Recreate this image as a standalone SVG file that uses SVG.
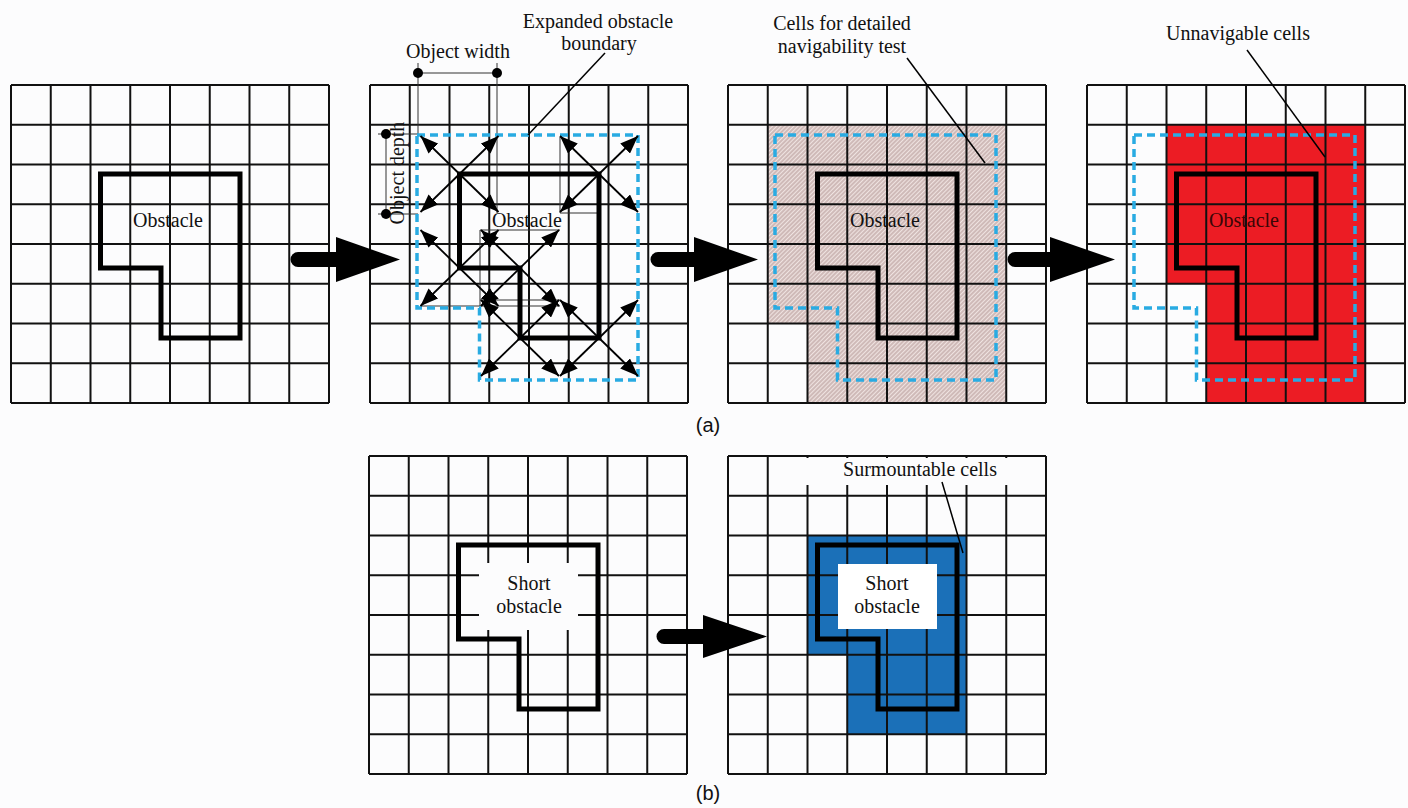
<svg xmlns="http://www.w3.org/2000/svg" xmlns:xlink="http://www.w3.org/1999/xlink" width="1408" height="808" viewBox="0 0 1408 808">
<style>
.grid{fill:none;stroke:#111;stroke-width:2}
.obs{fill:none;stroke:#000;stroke-width:5;stroke-linejoin:miter}
.bnd{fill:none;stroke:#29abe2;stroke-width:3.5;stroke-dasharray:8 5}
.lbl{font-family:"Liberation Serif","Times New Roman",serif;font-size:20px;fill:#111;text-anchor:middle}
.cap{font-family:"Liberation Sans",Arial,sans-serif;font-size:20px;fill:#111;text-anchor:middle}
.lead{stroke:#000;stroke-width:1.5;fill:none}
.thin{stroke:#333;stroke-width:1;fill:none}
.dbl{stroke:#000;stroke-width:1.8;fill:none;marker-start:url(#ah);marker-end:url(#ah)}
.big{fill:#000}
</style>
<defs>
<marker id="ah" markerUnits="userSpaceOnUse" markerWidth="18" markerHeight="14" refX="18" refY="7" orient="auto-start-reverse">
<path d="M0,0 L18,7 L0,14 Z" fill="#000"/>
</marker>
<pattern id="hatch" width="3" height="3" patternUnits="userSpaceOnUse" patternTransform="rotate(45)">
<rect width="3" height="3" fill="#efe3e1"/>
<line x1="1" y1="0" x2="1" y2="3" stroke="#b0928f" stroke-width="1"/>
</pattern>
<path id="grid" class="grid" d="M0,0H318M0,39.75H318M0,79.5H318M0,119.25H318M0,159H318M0,198.75H318M0,238.5H318M0,278.25H318M0,318H318M0,0V318M39.75,0V318M79.5,0V318M119.25,0V318M159,0V318M198.75,0V318M238.5,0V318M278.25,0V318M318,0V318"/>
<path id="obs" class="obs" d="M89.5,89H229V253H150V183H89.5Z"/>
<path id="bnd" class="bnd" d="M47,50H268V295H109.5V223H47Z"/>
</defs>
<rect width="1408" height="808" fill="#fcfcfd"/>

<g id="panel-a1">
<use xlink:href="#grid" x="11" y="85"/>
<use xlink:href="#obs" x="11" y="85"/>
<text class="lbl" x="168" y="227">Obstacle</text>
</g>

<g id="panel-a2">
<use xlink:href="#grid" x="370" y="85"/>
<g class="thin">
<path d="M418,63V135M497,63V213M378,134H418M378,214H418M560,137V213M560,213H599M480,230V306M480,230H560M420,306H560M480,300H560"/>
<path d="M418,73H497M386,134V214"/>
</g>
<circle cx="418" cy="73" r="5" fill="#000"/>
<circle cx="497" cy="73" r="5" fill="#000"/>
<circle cx="386" cy="134" r="5" fill="#000"/>
<circle cx="386" cy="214" r="5" fill="#000"/>
<use xlink:href="#obs" x="370" y="85"/>
<use xlink:href="#bnd" x="370" y="85"/>
<g id="reach-arrows">
<line class="dbl" x1="420.5" y1="136" x2="498.5" y2="212"/>
<line class="dbl" x1="498.5" y1="136" x2="420.5" y2="212"/>
<line class="dbl" x1="560" y1="136" x2="638" y2="212"/>
<line class="dbl" x1="638" y1="136" x2="560" y2="212"/>
<line class="dbl" x1="420.5" y1="230" x2="498.5" y2="306"/>
<line class="dbl" x1="498.5" y1="230" x2="420.5" y2="306"/>
<line class="dbl" x1="481" y1="230" x2="559" y2="306"/>
<line class="dbl" x1="559" y1="230" x2="481" y2="306"/>
<line class="dbl" x1="481" y1="300" x2="559" y2="376"/>
<line class="dbl" x1="559" y1="300" x2="481" y2="376"/>
<line class="dbl" x1="560" y1="300" x2="638" y2="376"/>
<line class="dbl" x1="638" y1="300" x2="560" y2="376"/>
</g>
<text class="lbl" x="527" y="227">Obstacle</text>
<text class="lbl" x="458" y="58">Object width</text>
<text class="lbl" transform="translate(404,173) rotate(-90)">Object depth</text>
<text class="lbl" x="598" y="28">Expanded obstacle</text>
<text class="lbl" x="599" y="50">boundary</text>
</g>

<g id="panel-a3">
<path d="M767.75,124.75H1006.25V403H807.5V323.5H767.75Z" fill="url(#hatch)"/>
<use xlink:href="#grid" x="728" y="85"/>
<use xlink:href="#obs" x="728" y="85"/>
<use xlink:href="#bnd" x="728" y="85"/>
<text class="lbl" x="885" y="227">Obstacle</text>
<text class="lbl" x="842" y="30">Cells for detailed</text>
<text class="lbl" x="842" y="53">navigability test</text>
</g>

<g id="panel-a4">
<path d="M1166.5,124.75H1365.25V403H1206.25V283.75H1166.5Z" fill="#ec1c24"/>
<use xlink:href="#grid" x="1087" y="85"/>
<use xlink:href="#obs" x="1087" y="85"/>
<use xlink:href="#bnd" x="1087" y="85"/>
<text class="lbl" x="1244" y="227" style="fill:#3a0606">Obstacle</text>
<text class="lbl" x="1238" y="40">Unnavigable cells</text>
</g>

<g id="panel-b1">
<use xlink:href="#grid" x="369" y="456"/>
<rect x="479" y="563" width="99" height="67" fill="#fcfcfd"/>
<use xlink:href="#obs" x="369" y="456"/>
<text class="lbl" x="529" y="590">Short</text>
<text class="lbl" x="529" y="613">obstacle</text>
</g>

<g id="panel-b2">
<path d="M807.5,535.5H966.5V734.25H847.25V654.75H807.5Z" fill="#1b70b8"/>
<use xlink:href="#grid" x="728" y="456"/>
<rect x="806" y="458" width="239" height="27" fill="#fcfcfd"/>
<rect x="838" y="564" width="99" height="65" fill="#fff"/>
<use xlink:href="#obs" x="728" y="456"/>
<text class="lbl" x="887" y="590">Short</text>
<text class="lbl" x="887" y="613">obstacle</text>
<text class="lbl" x="920" y="476">Surmountable cells</text>
</g>

<g id="connectors">
<path class="big" d="M298,252H336V237L400,259.5L336,282V267H298A7.5,7.5 0 0 1 298,252Z"/>
<path class="big" d="M658,252H694V237L758,259.5L694,282V267H658A7.5,7.5 0 0 1 658,252Z"/>
<path class="big" d="M1015,252H1050V237L1115,259.5L1050,282V267H1015A7.5,7.5 0 0 1 1015,252Z"/>
<path class="big" d="M664,629H703V615L767,636.5L703,658V644H664A7.5,7.5 0 0 1 664,629Z"/>
<line class="lead" x1="605" y1="53" x2="528" y2="135"/>
<line class="lead" x1="907" y1="58" x2="985" y2="163"/>
<line class="lead" x1="1247" y1="50" x2="1325" y2="157"/>
<line class="lead" x1="942" y1="482" x2="963" y2="553"/>
</g>

<text class="cap" x="708" y="432">(a)</text>
<text class="cap" x="708" y="800">(b)</text>
</svg>
